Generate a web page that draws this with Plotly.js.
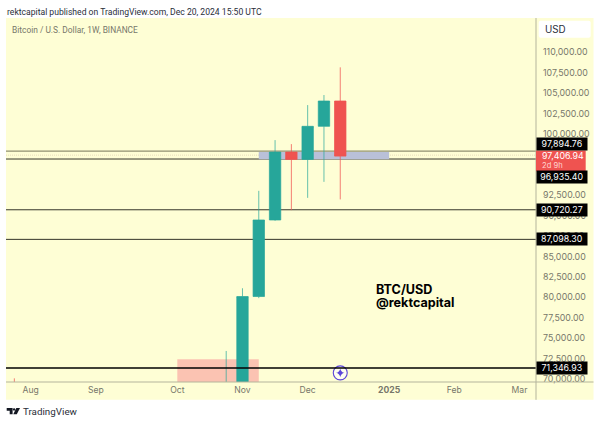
<!DOCTYPE html>
<html><head><meta charset="utf-8">
<script src="https://cdn.plot.ly/plotly-3.0.1.min.js"></script>
<style>html,body{margin:0;padding:0;background:#fff}#c{width:600px;height:423px}</style>
</head><body><div id="c"></div>
<script>
const weeks = ['2024-07-29','2024-10-28','2024-11-04','2024-11-11','2024-11-18','2024-11-25','2024-12-02','2024-12-09','2024-12-16'];
const opens = [68250,67000,69374,80098,89470,97790,96890,100940,104040];
const highs = [70079,73431,81110,93040,99250,98760,103540,104770,108160];
const lows  = [57000,66800,66835,79900,89380,90680,92180,94140,91990];
const closes= [58160,69374,80098,89470,97790,96890,100940,104040,97290];

const priceTicks = [70000,72500,75000,77500,80000,82500,85000,87500,90000,92500,100000,102500,105000,107500,110000];
const priceTickText = priceTicks.map(v=>v.toLocaleString('en-US',{minimumFractionDigits:2}));
const dateTicks = ['2024-08-05','2024-09-02','2024-10-07','2024-11-04','2024-12-02','2025-01-06','2025-02-03','2025-03-03'];
const dateTickText = ['Aug','Sep','Oct','Nov','Dec','<b>2025</b>','Feb','Mar'];

const levels = [97894.76,96935.40,90720.27,87098.30];
const levelShift = [7,-18,0,0];
const supportLevel = 71346.93;
const lastPrice = 97406.94;
const pinkZone = {x:['2024-10-07','2024-11-11'],y:[69000,72430]};
const blueZone = {x:['2024-11-11','2025-01-06'],y:[96900,97780]};

const W=600,H=423,L=6,R=536,T=18,B=381.7;
const px=x=>(x-L)/(R-L), py=y=>(B-y)/(B-T);
const poly=pts=>'M'+pts.map(p=>px(p[0])+','+py(p[1])).join('L')+'Z';
const cream='#fefed5', axisCol='#b4b49c';
const rrect=(a,b,c,d,r)=>'M'+px(a+r)+','+py(b)+'L'+px(c-r)+','+py(b)+'Q'+px(c)+','+py(b)+' '+px(c)+','+py(b+r)+'L'+px(c)+','+py(d-r)+'Q'+px(c)+','+py(d)+' '+px(c-r)+','+py(d)+'L'+px(a+r)+','+py(d)+'Q'+px(a)+','+py(d)+' '+px(a)+','+py(d-r)+'L'+px(a)+','+py(b+r)+'Q'+px(a)+','+py(b)+' '+px(a+r)+','+py(b)+'Z';

const shapes=[
 {type:'rect',xref:'paper',yref:'paper',x0:0,x1:px(593.5),y0:py(399.5),y1:1,fillcolor:cream,line:{width:0},layer:'below'},
 {type:'rect',xref:'x',yref:'y',x0:pinkZone.x[0],x1:pinkZone.x[1],y0:pinkZone.y[0],y1:pinkZone.y[1],fillcolor:'#fbc3b2',line:{width:0},layer:'below'},
 {type:'rect',xref:'x',yref:'y',x0:blueZone.x[0],x1:blueZone.x[1],y0:blueZone.y[0],y1:blueZone.y[1],fillcolor:'#b9c0d8',line:{width:0},layer:'below'},
 {type:'line',xref:'paper',yref:'y',x0:0,x1:1,y0:lastPrice,y1:lastPrice,line:{color:'#e6dcbc',width:1,dash:'1px,1px'},layer:'below'},
 {type:'line',xref:'paper',yref:'y',x0:0,x1:1,y0:levels[0],y1:levels[0],line:{color:'#8f8f70',width:1.2},layer:'below'},
 {type:'line',xref:'paper',yref:'y',x0:0,x1:1,y0:levels[1],y1:levels[1],line:{color:'#35352a',width:1},layer:'below'},
 {type:'line',xref:'paper',yref:'y',x0:0,x1:1,y0:levels[2],y1:levels[2],line:{color:'#35352a',width:1},layer:'below'},
 {type:'line',xref:'paper',yref:'y',x0:0,x1:1,y0:levels[3],y1:levels[3],line:{color:'#35352a',width:1},layer:'below'},
 {type:'line',xref:'paper',yref:'y',x0:0,x1:1,y0:supportLevel,y1:supportLevel,line:{color:'#000',width:1.5},layer:'above'},
 {type:'line',xref:'paper',yref:'paper',x0:1,x1:1,y0:py(399.5),y1:1,line:{color:axisCol,width:1}},
 {type:'line',xref:'paper',yref:'paper',x0:0,x1:px(593.5),y0:0,y1:0,line:{color:axisCol,width:1}},
 {type:'path',xref:'paper',yref:'paper',path:rrect(538.7,20.7,590.7,37.7,2),fillcolor:'#fff',line:{width:0}},
 {type:'rect',xref:'paper',yref:'paper',x0:1,x1:px(585.7),y0:py(171),y1:py(150.3),fillcolor:'#ef5350',line:{width:0}},
 // TradingView logo
 {type:'path',xref:'paper',yref:'paper',path:poly([[6.7,407.7],[12.6,407.7],[12.6,413.8],[9.7,413.8],[9.7,410.4],[6.7,410.4]]),fillcolor:'#131722',line:{width:0}},
 {type:'circle',xref:'paper',yref:'paper',x0:px(12.9),x1:px(15.3),y0:py(410.3),y1:py(407.9),fillcolor:'#131722',line:{width:0}},
 {type:'path',xref:'paper',yref:'paper',path:poly([[16.3,407.7],[20,407.7],[16.8,413.8],[13.3,413.8]]),fillcolor:'#131722',line:{width:0}}
];

const tag=(text,val,shift)=>({xref:'paper',yref:'y',x:1,y:val,xanchor:'left',yanchor:'middle',yshift:shift,
  text,showarrow:false,align:'center',width:49.7,height:11.5,bgcolor:'#000',borderpad:0,
  font:{family:'Inter, Arial',size:8.8,color:'#fff'}});
const fmt=v=>v.toLocaleString('en-US',{minimumFractionDigits:2});
const label=(x,y,text,size,color,fam)=>({xref:'paper',yref:'paper',x:px(x),y:py(y),xanchor:'left',yanchor:'middle',showarrow:false,text,borderpad:0,font:{family:fam||'Roboto, Arial',size,color}});

const annotations=[
 label(5.5,12,'rektcapital published on TradingView.com, Dec 20, 2024 15:50 UTC',8.6,'#2a2e39'),
 label(11,30,'Bitcoin / U.S. Dollar, 1W, BINANCE',8.4,'#77776a'),
 label(544,29.2,'USD',9.8,'#2a2e39','Inter, Arial'),
 label(375,289.3,'<b>BTC/USD</b>',12.6,'#000','Inter, Arial'),
 label(375,302,'<b>@rektcapital</b>',12.6,'#000','Inter, Arial'),
 label(22,411,'TradingView',9.8,'#2a2e39'),
 tag(fmt(levels[0]),levels[0],levelShift[0]),
 label(541,155.5,fmt(lastPrice),8.8,'#fff','Inter, Arial'),
 label(541,165,'2d 9h',7.6,'#ffd5d0','Inter, Arial'),
 tag(fmt(levels[1]),levels[1],levelShift[1]),
 tag(fmt(levels[2]),levels[2],levelShift[2]),
 tag(fmt(levels[3]),levels[3],levelShift[3]),
 tag(fmt(supportLevel),supportLevel,0)
];

const traces=[
 {type:'candlestick',x:weeks,open:opens,high:highs,low:lows,close:closes,whiskerwidth:0,
  increasing:{line:{color:'rgba(38,166,154,0.7)',width:1},fillcolor:'#26a69a'},
  decreasing:{line:{color:'rgba(239,83,80,0.75)',width:1},fillcolor:'#ef5350'},hoverinfo:'skip',showlegend:false},
 {type:'scatter',mode:'markers',x:['2024-12-16'],y:[70750],hoverinfo:'skip',showlegend:false,cliponaxis:false,
  marker:{symbol:'circle',size:14,color:'#fefef0',line:{color:'#5b45d8',width:1.1}}},
 {type:'scatter',mode:'markers',x:['2024-12-16'],y:[70750],hoverinfo:'skip',showlegend:false,cliponaxis:false,
  marker:{symbol:'star-diamond',size:6,color:'#5b45d8',line:{width:0}}}
];

const layout={
 width:W,height:H,margin:{l:L,r:W-R,t:T,b:H-B,pad:0},
 paper_bgcolor:'#fff',plot_bgcolor:cream,boxgap:0,showlegend:false,
 font:{family:'Inter, Arial'},
 xaxis:{type:'date',range:['2024-07-25 10:00','2025-03-10 02:00'],rangeslider:{visible:false},showgrid:false,zeroline:false,
   tickmode:'array',tickvals:dateTicks,ticktext:dateTickText,ticks:'',ticklen:0,tickfont:{size:8.6,color:'#77776a'},showline:false,ticklabelstandoff:1},
 yaxis:{side:'right',range:[69632,114203],showgrid:false,zeroline:false,tickmode:'array',tickvals:priceTicks,ticktext:priceTickText,
   ticks:'',ticklen:0,tickfont:{size:8.8,color:'#77776a'},showline:false,ticklabelstandoff:6},
 shapes,annotations
};
Plotly.newPlot('c',traces,layout,{displayModeBar:false,staticPlot:true});
</script></body></html>
